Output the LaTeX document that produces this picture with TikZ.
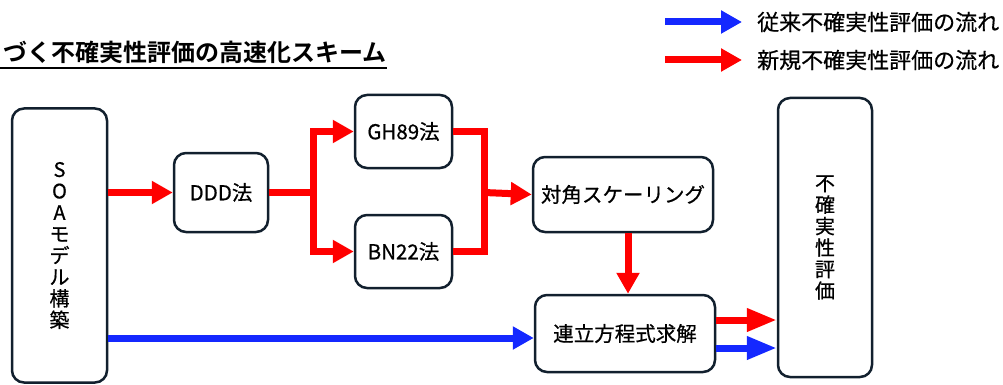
\documentclass[tikz,border=0pt]{standalone}
\usepackage{fontspec}
\newfontfamily\jp[FakeBold=0.6]{Noto Sans CJK JP}
\newfontfamily\jpb{Noto Sans CJK JP Bold}
\usetikzlibrary{arrows.meta}
\definecolor{boxc}{RGB}{18,32,46}
\definecolor{ared}{RGB}{255,0,0}
\definecolor{ablue}{RGB}{20,40,255}
\begin{document}
\begin{tikzpicture}[x=1pt,y=-1pt,
  box/.style={draw=boxc, line width=2.5pt, rounded corners=12pt, fill=white, align=center, inner sep=0pt,
    font=\jp\fontsize{20.5}{22}\selectfont},
  vbox/.style={box, font=\jp\fontsize{20}{21.5}\selectfont},
  rl/.style={draw=ared, line width=7pt},
  ra/.style={rl, -{Triangle[length=21pt,width=22pt]}},
  ra2/.style={rl, -{Triangle[length=30pt,width=22pt]}},
  bl/.style={draw=ablue, line width=7pt},
  ba/.style={bl, -{Triangle[length=21pt,width=22pt]}},
  ba2/.style={bl, -{Triangle[length=30pt,width=22pt]}},
  legtext/.style={anchor=west, inner sep=0pt, font=\jp\fontsize{22}{24}\selectfont},
]
\useasboundingbox (0,0) rectangle (1003,385);
% title
\node[anchor=west, inner sep=0pt, font=\jpb\fontsize{24}{26}\selectfont] (title) at (3,52) {づく不確実性評価の高速化スキーム};
\draw[line width=2pt] (0,68) -- (title.south east |- 0,68);
% legend
\coordinate (lb1) at (665,22);
\coordinate (lb2) at (742,22);
\coordinate (lr1) at (665,60);
\coordinate (lr2) at (742,60);
\draw[ba] (lb1) -- (lb2);
\draw[ra] (lr1) -- (lr2);
\node[legtext] (leg1) at (757,22) {従来不確実性評価の流れ};
\node[legtext] (leg2) at (757,60) {新規不確実性評価の流れ};
% nodes
\node[vbox, minimum width=95pt, minimum height=274pt] (soa) at (59.5,245.5) {S\\O\\A\\モ\\デ\\ル\\構\\築};
\node[box, minimum width=94pt, minimum height=79pt] (ddd) at (221,192.5) {DDD法};
\node[box, minimum width=97pt, minimum height=73pt] (gh) at (403.5,131.5) {GH89法};
\node[box, minimum width=97pt, minimum height=73pt] (bn) at (403.5,251.5) {BN22法};
\node[box, minimum width=180pt, minimum height=75pt] (diag) at (623,194.5) {対角スケーリング};
\node[box, minimum width=180pt, minimum height=77pt] (ren) at (625,333.5) {連立方程式求解};
\node[vbox, minimum width=94pt, minimum height=279pt] (unc) at (825,237.5) {不\\確\\実\\性\\評\\価};
% connectors
\coordinate (s1) at (313,192.5);
\coordinate (m1) at (484,192.5);
\draw[ra] (soa.east |- ddd.west) -- (ddd.west);
\draw[rl] (ddd.east) -- (s1);
\draw[rl, {Triangle[length=21pt,width=22pt]}-{Triangle[length=21pt,width=22pt]}] (gh.west) -| (s1) |- (bn.west);
\draw[rl] (gh.east) -| (m1) |- (bn.east);
\draw[ra] (m1) -- (diag.west);
\draw[ra] ([xshift=5pt]diag.south) -- ([xshift=5pt]diag.south |- ren.north);
\draw[ba] ([yshift=-4.5pt]soa.east |- ren.west) -- ([yshift=-4.5pt]ren.west);
\draw[ra2] ([yshift=13.5pt]ren.east) -- ([yshift=13.5pt]ren.east -| unc.west);
\draw[ba2] ([yshift=-14.5pt]ren.east) -- ([yshift=-14.5pt]ren.east -| unc.west);
\end{tikzpicture}
\end{document}
